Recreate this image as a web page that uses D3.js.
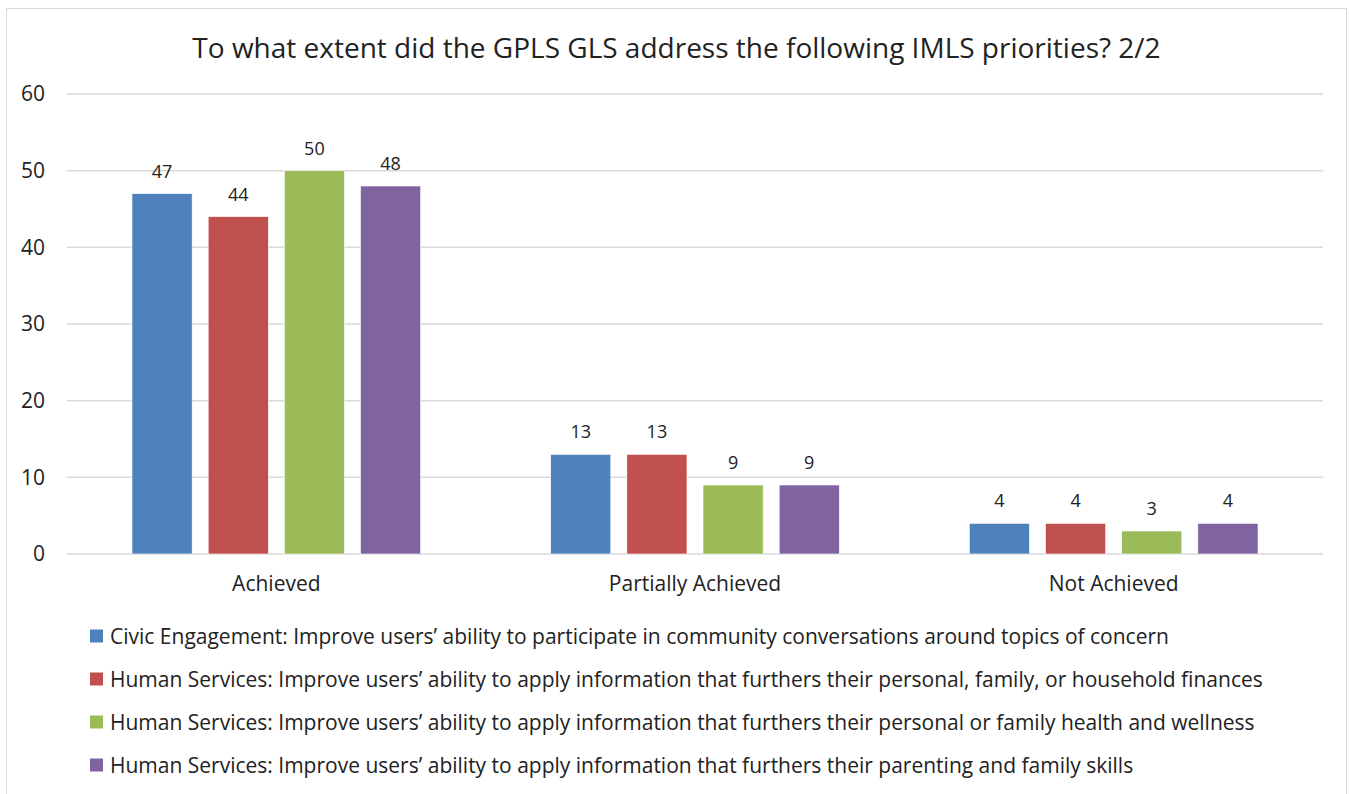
<!DOCTYPE html>
<html>
<head>
<meta charset="utf-8">
<script src="https://cdn.jsdelivr.net/npm/d3@7"></script>
<style>
  body { margin: 0; background: #fff; }
  svg text { font-family: "Open Sans", sans-serif; fill: #222; }
</style>
</head>
<body>
<div id="chart"></div>
<script>
const categories = ["Achieved", "Partially Achieved", "Not Achieved"];
const seriesNames = [
  "Civic Engagement: Improve users’ ability to participate in community conversations around topics of concern",
  "Human Services: Improve users’ ability to apply information that furthers their personal, family, or household finances",
  "Human Services: Improve users’ ability to apply information that furthers their personal or family health and wellness",
  "Human Services: Improve users’ ability to apply information that furthers their parenting and family skills"
];
const civicValues = [47, 13, 4];
const financeValues = [44, 13, 4];
const healthValues = [50, 9, 3];
const parentingValues = [48, 9, 4];
const yTicks = [0, 10, 20, 30, 40, 50, 60];
const colors = ["#4F81BD", "#C0504D", "#9BBB59", "#8064A2"];
const titleText = "To what extent did the GPLS GLS address the following IMLS priorities? 2/2";

const seriesValues = [civicValues, financeValues, healthValues, parentingValues];

const W = 1349, H = 794;
const svg = d3.select("#chart").append("svg")
  .attr("width", W).attr("height", H);

// chart border
svg.append("rect")
  .attr("x", 6.5).attr("y", 8.5)
  .attr("width", 1340).attr("height", 790)
  .attr("fill", "none")
  .attr("stroke", "#d9d9d9")
  .attr("stroke-width", 1);

const margin = { top: 94, left: 67, right: 26, bottom: 240 };
const plotW = W - margin.left - margin.right;
const plotH = 554 - margin.top;

const g = svg.append("g").attr("transform", `translate(${margin.left},${margin.top})`);

const x0 = d3.scaleBand().domain(categories).range([0, plotW]).paddingInner(0).paddingOuter(0);
const x1 = d3.scaleBand().domain(d3.range(seriesNames.length))
  .range([65, x0.bandwidth() - 65]).paddingInner(16 / 76).paddingOuter(0);
const y = d3.scaleLinear().domain([0, 60]).range([plotH, 0]);

// gridlines
g.selectAll(".grid").data(yTicks).enter().append("line")
  .attr("x1", 0).attr("x2", plotW)
  .attr("y1", d => y(d)).attr("y2", d => y(d))
  .attr("stroke", "#d9d9d9").attr("stroke-width", 1.5);

// y axis labels
g.append("g")
  .call(d3.axisLeft(y).tickValues(yTicks).tickSize(0).tickPadding(22))
  .call(a => a.select(".domain").remove())
  .selectAll("text")
  .style("font-size", "21px").style("fill", "#222");

// bars
const groups = g.selectAll(".grp").data(categories).enter().append("g")
  .attr("transform", d => `translate(${x0(d)},0)`);

groups.each(function(cat, ci) {
  const grp = d3.select(this);
  seriesValues.forEach((vals, si) => {
    grp.append("rect")
      .attr("x", x1(si)).attr("width", x1.bandwidth())
      .attr("y", y(vals[ci])).attr("height", y(0) - y(vals[ci]))
      .attr("fill", colors[si])
      .attr("stroke", "#fff").attr("stroke-width", 0.6);
    grp.append("text")
      .attr("x", x1(si) + x1.bandwidth() / 2)
      .attr("y", y(vals[ci]) - 16)
      .attr("text-anchor", "middle")
      .style("font-size", "18px")
      .text(vals[ci]);
  });
});

// x axis labels
g.append("g")
  .attr("transform", `translate(0,${plotH})`)
  .call(d3.axisBottom(x0).tickSize(0).tickPadding(22))
  .call(a => a.select(".domain").remove())
  .selectAll("text")
  .style("font-size", "21px").style("fill", "#222");

// title
svg.append("text")
  .attr("x", 676.5).attr("y", 58)
  .attr("text-anchor", "middle")
  .style("font-size", "28px")
  .text(titleText);

// legend
const legend = svg.append("g").attr("transform", "translate(90,636)");
seriesNames.forEach((name, i) => {
  const row = legend.append("g").attr("transform", `translate(0,${i * 43})`);
  row.append("rect")
    .attr("x", 0).attr("y", -6.5).attr("width", 13).attr("height", 13)
    .attr("fill", colors[i]);
  row.append("text")
    .attr("x", 20).attr("y", 7.5)
    .style("font-size", "21px")
    .text(name);
});
</script>
</body>
</html>
